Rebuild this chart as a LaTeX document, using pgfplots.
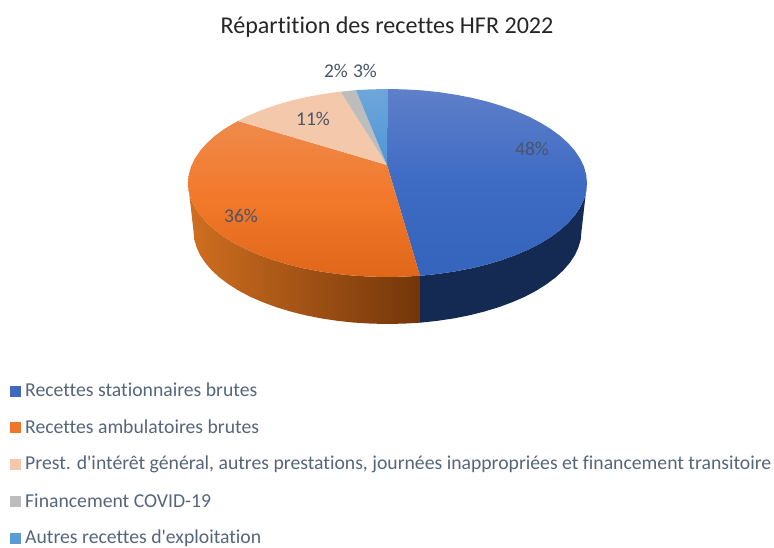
\documentclass[border=0pt]{standalone}
\usepackage{fontspec}
\setmainfont{Carlito}[Ligatures={TeXOff,CommonOff}]
\usepackage{pgfplots}
\pgfplotsset{compat=1.18}
\definecolor{legtxt}{HTML}{55657C}
\definecolor{lbl}{HTML}{4A5568}
\definecolor{wallOL}{HTML}{D06F20}
\definecolor{wallOR}{HTML}{73360A}
\definecolor{wallB}{HTML}{152A52}
\definecolor{blueT}{HTML}{5F7FC9}
\definecolor{blueM}{HTML}{3E6BC4}
\definecolor{blueB}{HTML}{3464BC}
\definecolor{orT}{HTML}{EF8A4B}
\definecolor{orM}{HTML}{F2782A}
\definecolor{orB}{HTML}{E0671A}
\definecolor{peach}{HTML}{F4C9AB}
\definecolor{grey}{HTML}{BDBDBD}
\definecolor{ltT}{HTML}{6EA6DA}
\definecolor{ltB}{HTML}{4F96D8}
\definecolor{sqB}{HTML}{3F68BE}
\definecolor{sqO}{HTML}{F0752A}
\definecolor{sqP}{HTML}{F6C8AA}
\definecolor{sqL}{HTML}{5B9BD5}
\newcommand\leg[2]{\node[anchor=mid west,inner sep=0pt,text=legtxt,font=\fontsize{19.7}{21}\selectfont] at (axis cs:-362.5,#1-3.5) {#2};}
\newcommand\lab[2]{\node[inner sep=0pt,text=lbl,font=\fontsize{19.5}{21}\selectfont] at (axis cs:#1) {#2};}
\begin{document}
\begin{tikzpicture}
\begin{axis}[
  scale only axis, width=774pt, height=547pt,
  xmin=-387.5, xmax=386.5, ymin=-364, ymax=183,
  axis lines=none, clip=false,
  every axis plot/.append style={mark=none, forget plot}
]
\path (axis cs:-387.5,-364) rectangle (axis cs:386.5,183);
% side walls
\addplot[draw=none, left color=wallOL, right color=wallOR] coordinates {
(-199.5,0) (-198.7,-8.2) (-196.5,-16.3) (-192.7,-24.3) (-187.5,-32.1) (-180.8,-39.7) (-172.8,-47) (-163.4,-53.9) (-152.8,-60.4) (-141.1,-66.5) (-128.2,-72) (-114.4,-77) (-99.8,-81.4) (-84.3,-85.2) (-68.2,-88.3) (-51.6,-90.8) (-34.6,-92.6) (-17.4,-93.6) (0,-94) (17.4,-93.6) (32.5,-92.8)
(32.5,-139.7) (16.9,-140.6) (0,-141) (-16.9,-140.6) (-33.7,-139.6) (-50.2,-137.8) (-66.3,-135.4) (-82,-132.3) (-97,-128.5) (-111.3,-124.2) (-124.7,-119.2) (-137.2,-113.8) (-148.6,-107.8) (-158.9,-101.3) (-168,-94.5) (-175.8,-87.3) (-182.3,-79.8) (-187.4,-72.1) (-191,-64.1) (-193.3,-56.1) (-194,-48)
} -- cycle;
\addplot[draw=none, fill=wallB] coordinates {
(199.5,0) (198.7,-8.2) (196.5,-16.3) (192.7,-24.3) (187.5,-32.1) (180.8,-39.7) (172.8,-47) (163.4,-53.9) (152.8,-60.4) (141.1,-66.5) (128.2,-72) (114.4,-77) (99.8,-81.4) (84.3,-85.2) (68.2,-88.3) (51.6,-90.8) (32.5,-92.8)
(32.5,-139.7) (50.2,-137.8) (66.3,-135.4) (82,-132.3) (97,-128.5) (111.3,-124.2) (124.7,-119.2) (137.2,-113.8) (148.6,-107.8) (158.9,-101.3) (168,-94.5) (175.8,-87.3) (182.3,-79.8) (187.4,-72.1) (191,-64.1) (193.3,-56.1) (194,-48)
} -- cycle;
% top faces
\addplot[draw=none, top color=blueT, bottom color=blueB, middle color=blueM] coordinates {
(-0.5,18) (0,94) (17.4,93.6) (34.6,92.6) (51.6,90.8) (68.2,88.3) (84.3,85.2) (99.8,81.4) (114.4,77) (128.2,72) (141.1,66.5) (152.8,60.4) (163.4,53.9) (172.8,47) (180.8,39.7) (187.5,32.1) (192.7,24.3) (196.5,16.3) (198.7,8.2) (199.5,0) (198.7,-8.2) (196.5,-16.3) (192.7,-24.3) (187.5,-32.1) (180.8,-39.7) (172.8,-47) (163.4,-53.9) (152.8,-60.4) (141.1,-66.5) (128.2,-72) (114.4,-77) (99.8,-81.4) (84.3,-85.2) (68.2,-88.3) (51.6,-90.8) (32.5,-92.8)
} -- cycle;
\addplot[draw=none, top color=orT, bottom color=orB, middle color=orM] coordinates {
(-0.5,18) (32.5,-92.8) (17.4,-93.6) (0,-94) (-17.4,-93.6) (-34.6,-92.6) (-51.6,-90.8) (-68.2,-88.3) (-84.3,-85.2) (-99.8,-81.4) (-114.4,-77) (-128.2,-72) (-141.1,-66.5) (-152.8,-60.4) (-163.4,-53.9) (-172.8,-47) (-180.8,-39.7) (-187.5,-32.1) (-192.7,-24.3) (-196.5,-16.3) (-198.7,-8.2) (-199.5,0) (-198.7,8.2) (-196.5,16.3) (-192.7,24.3) (-187.5,32.1) (-180.8,39.7) (-172.8,47) (-163.4,53.9) (-156,58.4) (-149.5,62)
} -- cycle;
\addplot[draw=none, fill=peach] coordinates {
(-0.5,18) (-149.5,62) (-141.1,66.5) (-128.2,72) (-114.4,77) (-99.8,81.4) (-84.3,85.2) (-68.2,88.3) (-51.6,90.8) (-46.8,91.3)
} -- cycle;
\addplot[draw=none, fill=grey] coordinates {
(-0.5,18) (-46.8,91.3) (-34.6,92.6) (-31.5,92.9)
} -- cycle;
\addplot[draw=none, top color=ltT, bottom color=ltB] coordinates {
(-0.5,18) (-31.5,92.9) (-17.4,93.6) (0,94)
} -- cycle;
% legend squares
\addplot[only marks, mark=square*, mark size=5pt, color=sqB, mark options={draw=none}] coordinates {(-372.5,-208)};
\addplot[only marks, mark=square*, mark size=5pt, color=sqO, mark options={draw=none}] coordinates {(-372.5,-244.5)};
\addplot[only marks, mark=square*, mark size=5pt, color=sqP, mark options={draw=none}] coordinates {(-372.5,-281)};
\addplot[only marks, mark=square*, mark size=5pt, color=grey, mark options={draw=none}] coordinates {(-372.5,-318.5)};
\addplot[only marks, mark=square*, mark size=5pt, color=sqL, mark options={draw=none}] coordinates {(-372.5,-355)};
% texts
\node[inner sep=0pt,text=black!85,font=\fontsize{24.1}{26}\selectfont] at (axis cs:-0.5,156) {Répartition des recettes HFR 2022};
\lab{144.5,34}{48\%}
\lab{-146.5,-33}{36\%}
\lab{-74.5,64}{11\%}
\lab{-51.5,112}{2\%}
\lab{-22.5,112}{3\%}
\leg{-208}{Recettes stationnaires brutes}
\leg{-244.5}{Recettes ambulatoires brutes}
\leg{-281}{Prest. d'intérêt général, autres prestations, journées inappropriées et financement transitoire}
\leg{-318.5}{Financement COVID-19}
\leg{-355}{Autres recettes d'exploitation}
\end{axis}
\end{tikzpicture}
\end{document}
